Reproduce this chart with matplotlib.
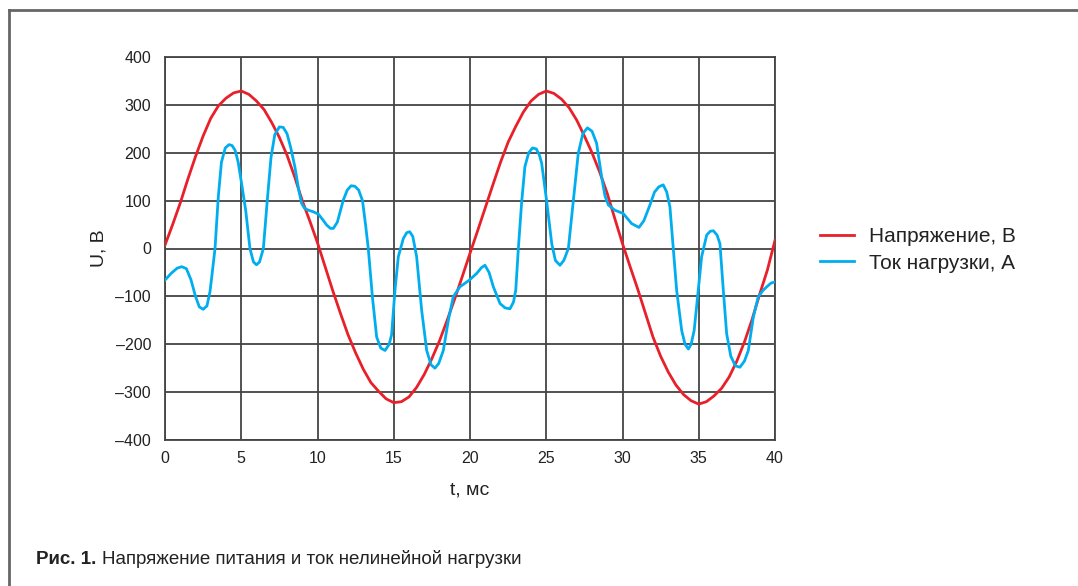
import numpy as np
import matplotlib
matplotlib.use('Agg')
import matplotlib.pyplot as plt
from matplotlib.lines import Line2D

# ---- данные ----
t_u = [0, 0.5, 1, 1.5, 2, 2.5, 3, 3.5, 4, 4.5, 5, 5.5, 6, 6.5, 7, 7.5, 8, 8.5, 9, 9.5,
       10, 10.5, 11, 11.5, 12, 12.5, 13, 13.5, 14, 14.5, 15, 15.5, 16, 16.5, 17, 17.5, 18, 18.5, 19, 19.5,
       20, 20.5, 21, 21.5, 22, 22.5, 23, 23.5, 24, 24.5, 25, 25.5, 26, 26.5, 27, 27.5, 28, 28.5, 29, 29.5,
       30, 30.5, 31, 31.5, 32, 32.5, 33, 33.5, 34, 34.5, 35, 35.5, 36, 36.5, 37, 37.5, 38, 38.5, 39, 39.5, 40]
u_vals = [7, 50, 95, 145, 192, 235, 272, 298, 314, 325, 329, 322, 308, 290, 263, 232, 195, 150, 100, 57,
          12, -38, -88, -135, -180, -218, -252, -280, -298, -314, -322, -320, -310, -290, -263, -230, -193, -150, -105, -58,
          -10, 37, 85, 133, 180, 222, 255, 285, 308, 322, 329, 324, 312, 294, 268, 235, 200, 160, 115, 62,
          10, -38, -85, -135, -185, -225, -258, -285, -305, -318, -325, -320, -308, -292, -268, -235, -195, -148, -95, -45, 17]

t_i = [0.0, 0.4, 0.8, 1.1, 1.4, 1.7, 2.0, 2.25, 2.5, 2.75, 2.95, 3.1, 3.28, 3.5, 3.7, 3.95, 4.2, 4.4, 4.6, 4.8,
       5.05, 5.29, 5.57, 5.8, 6.0, 6.2, 6.45, 6.7, 6.95, 7.2, 7.5, 7.75, 8.0, 8.25, 8.52, 8.75, 8.96, 9.15, 9.4, 9.7,
       10.05, 10.35, 10.6, 10.85, 11.04, 11.3, 11.69, 11.95, 12.2, 12.45, 12.7, 12.95, 13.15, 13.33, 13.6, 13.88, 14.15, 14.43, 14.7, 14.86,
       15.08, 15.3, 15.63, 15.85, 16.05, 16.25, 16.5, 16.83, 17.16, 17.45, 17.7, 17.95, 18.25, 18.58, 18.9, 19.34, 19.96, 20.44, 20.75, 20.98,
       21.25, 21.53, 21.97, 22.3, 22.62, 22.85, 23.0, 23.17, 23.39, 23.6, 23.85, 24.1, 24.35, 24.55, 24.7, 25.03, 25.36, 25.6, 25.9, 26.15,
       26.45, 26.77, 27.1, 27.4, 27.7, 28.0, 28.3, 28.63, 28.85, 29.07, 29.5, 30.05, 30.6, 31.08, 31.4, 31.8, 32.1, 32.39, 32.67, 32.9,
       33.11, 33.33, 33.55, 33.88, 34.1, 34.32, 34.5, 34.7, 34.97, 35.19, 35.52, 35.75, 35.96, 36.2, 36.39, 36.61, 36.83, 37.1, 37.4, 37.7,
       38.0, 38.25, 38.58, 38.9, 39.2, 39.46, 39.75, 40.0]
i_vals = [-66, -52, -41, -38, -42, -65, -100, -122, -127, -120, -90, -50, 0, 110, 180, 210, 217, 215, 205, 180,
          130, 80, 0, -28, -34, -28, 0, 98, 190, 238, 254, 253, 240, 210, 170, 125, 94, 84, 80, 77,
          72, 60, 49, 42, 42, 55, 101, 122, 131, 130, 122, 100, 50, 0, -101, -185, -208, -213, -200, -180,
          -87, -17, 21, 33, 35, 25, -17, -129, -213, -243, -250, -240, -213, -150, -101, -80, -66, -52, -40, -35,
          -50, -80, -115, -124, -126, -112, -87, 0, 98, 171, 200, 210, 208, 195, 178, 98, 10, -25, -35, -25,
          0, 98, 199, 240, 252, 245, 220, 150, 110, 91, 80, 73, 52, 44, 58, 91, 118, 129, 133, 118,
          87, 0, -87, -171, -200, -210, -200, -171, -87, -17, 28, 36, 37, 28, 10, -87, -178, -225, -245, -248,
          -235, -213, -143, -101, -88, -80, -72, -70]

x_ticks = [0, 5, 10, 15, 20, 25, 30, 35, 40]
y_ticks = [-400, -300, -200, -100, 0, 100, 200, 300, 400]
y_labels = ['–400', '–300', '–200', '–100', '0', '100', '200', '300', '400']

red = '#e8202a'
blue = '#00aeef'
grid_c = '#444444'
text_c = '#222222'

plt.rcParams['font.family'] = ['Liberation Sans', 'DejaVu Sans']

fig = plt.figure(figsize=(10.78, 5.86), dpi=100)
ax = fig.add_axes([165 / 1078, 1 - 440 / 586, 610 / 1078, 383 / 586])

ax.plot(t_u, u_vals, color=red, lw=2.0, label='Напряжение, В', zorder=3, solid_joinstyle='round')
ax.plot(t_i, i_vals, color=blue, lw=2.0, label='Ток нагрузки, А', zorder=4, solid_joinstyle='round')

ax.set_xlim(0, 40)
ax.set_ylim(-400, 400)
ax.set_xticks(x_ticks)
ax.set_yticks(y_ticks)
ax.set_yticklabels(y_labels)
ax.tick_params(length=0, labelsize=11.5, colors=text_c)
ax.tick_params(axis='y', pad=10)
ax.tick_params(axis='x', pad=8)
ax.grid(True, color=grid_c, lw=1.3)
for s in ax.spines.values():
    s.set_color(grid_c)
    s.set_linewidth(1.3)

ax.set_xlabel('t, мс', fontsize=14, color=text_c, labelpad=11)
ax.set_ylabel('U, В', fontsize=14, color=text_c, labelpad=6)

leg = fig.legend(loc='upper left', bbox_to_anchor=(812 / 1078, 1 - 219 / 586),
                 frameon=False, fontsize=15, handlelength=1.6, handletextpad=0.75,
                 labelspacing=0.35, borderaxespad=0)
for txt in leg.get_texts():
    txt.set_color(text_c)

# рамка
fig.add_artist(Line2D([9 / 1078, 1.0], [1 - 10 / 586, 1 - 10 / 586], color='#666666', lw=2))
fig.add_artist(Line2D([9 / 1078, 9 / 1078], [0, 1 - 10 / 586], color='#666666', lw=2))

t1 = fig.text(36 / 1078, 1 - 559 / 586, 'Рис. 1.', fontsize=13.5, fontweight='bold',
              color=text_c, va='center')
fig.canvas.draw()
bb = t1.get_window_extent()
fig.text((bb.x1 + 6) / 1078, 1 - 559 / 586, 'Напряжение питания и ток нелинейной нагрузки',
         fontsize=13.5, color=text_c, va='center')

fig.savefig('out.png', dpi=100)
